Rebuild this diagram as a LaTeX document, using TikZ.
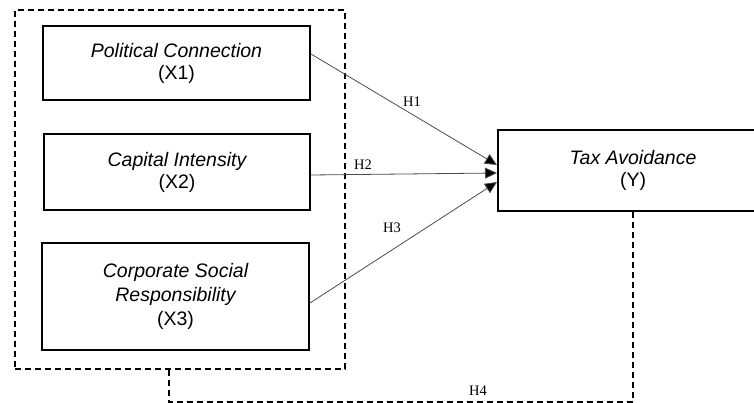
\documentclass[tikz,border=0pt]{standalone}
\usepackage{fontspec}
\setmainfont{Liberation Serif}
\setsansfont{Liberation Sans}
\usetikzlibrary{arrows.meta}
\begin{document}
\begin{tikzpicture}[x=1pt,y=-1pt,
  varbox/.style={draw=black,line width=2pt,fill=white,minimum width=#1,align=center,inner sep=0pt,
    font=\sffamily\itshape\fontsize{19.5}{22}\selectfont},
  grpbox/.style={draw=black,line width=1.4pt,dash pattern=on 6pt off 4pt,inner sep=0pt},
  dline/.style={draw=black,line width=1.4pt,dash pattern=on 6pt off 4pt},
  hyp/.style={draw=black!70,line width=0.8pt,-{Triangle[length=12pt,width=11pt,fill=black]}},
  hlab/.style={font=\rmfamily\fontsize{14.5}{16}\selectfont,inner sep=0pt}]
\clip (0,0) rectangle (754,403);
\node[grpbox,minimum width=330pt,minimum height=359pt] (grp) at (180,189.5) {};
\node[varbox=267pt,minimum height=74pt] (x1) at (176.5,63) {Political Connection\\\upshape(X1)};
\node[varbox=266pt,minimum height=76pt] (x2) at (177,172) {Capital Intensity\\\upshape(X2)};
\node[varbox=267pt,minimum height=107pt,font=\sffamily\itshape\fontsize{19.5}{24}\selectfont] (x3) at (175.5,296.5) {Corporate Social\\Responsibility\\\upshape(X3)};
\node[varbox=270pt,minimum height=81pt] (y) at (633,170.5) {Tax Avoidance\\\upshape(Y)};
\draw[hyp] ([yshift=9pt]x1.east) -- ([yshift=5.5pt]y.west);
\draw[hyp] ([yshift=-3pt]x2.east) -- ([yshift=-2.5pt]y.west);
\draw[hyp] ([yshift=-6.5pt]x3.east) -- ([yshift=-11.5pt]y.west);
\coordinate (c4) at (169,402);
\draw[dline] ([xshift=-11pt]grp.south) -- (c4) -| (y.south);
\node[hlab] (h1) at (412,102) {H1};
\node[hlab] (h2) at (363,165) {H2};
\node[hlab] (h3) at (392,228) {H3};
\node[hlab] (h4) at (478,391) {H4};
\end{tikzpicture}
\end{document}
